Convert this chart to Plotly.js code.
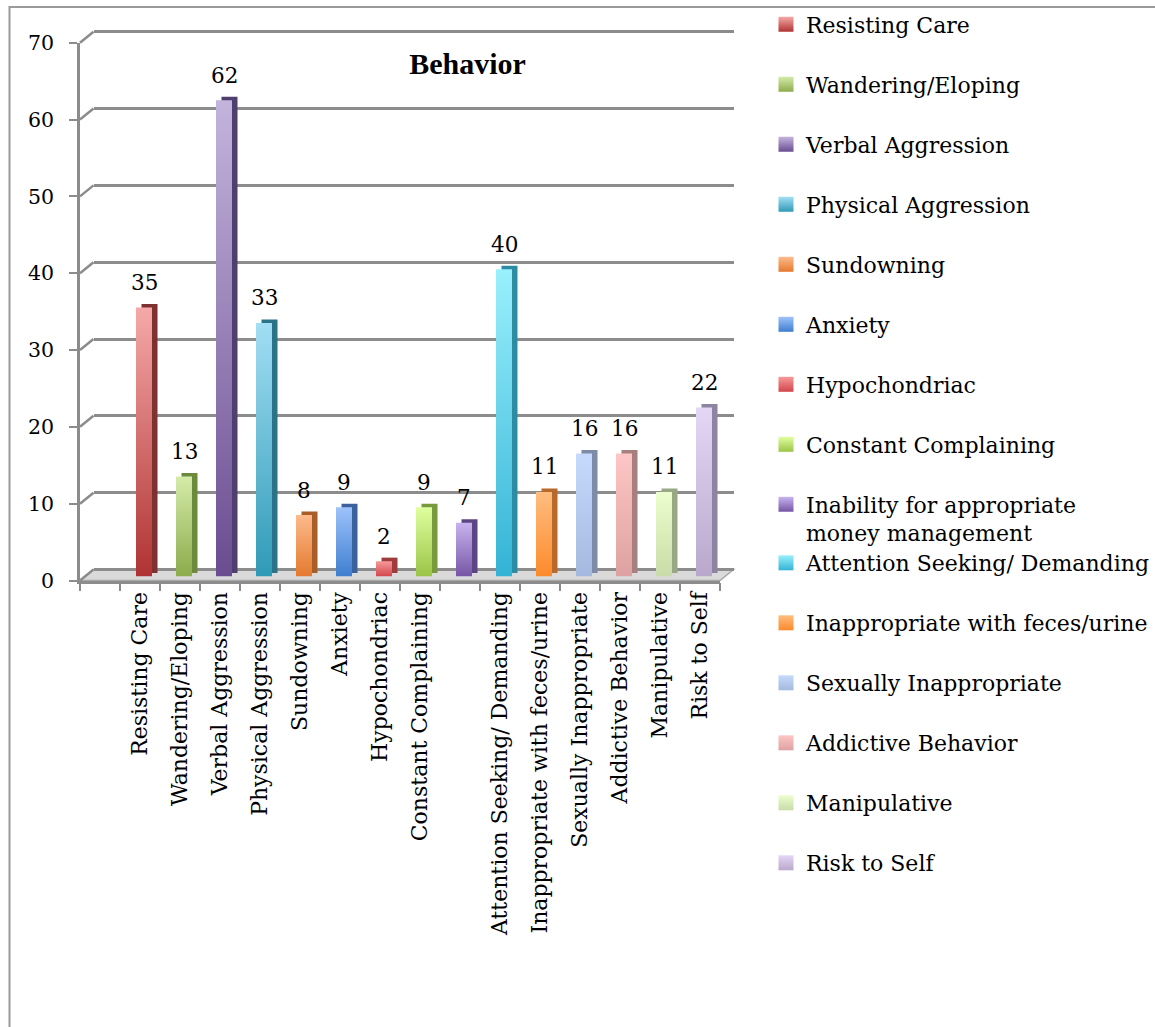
<!DOCTYPE html>
<html>
<head>
<meta charset="utf-8">
<script src="https://cdn.plot.ly/plotly-3.0.1.min.js"></script>
<style>
  html, body { margin: 0; padding: 0; background: #ffffff; }
  #chart { width: 1155px; height: 1027px; }
</style>
</head>
<body>
<div id="chart"></div>
<script>
// ---- data ----
const categories = [
  'Resisting Care', 'Wandering/Eloping', 'Verbal Aggression', 'Physical Aggression',
  'Sundowning', 'Anxiety', 'Hypochondriac', 'Constant Complaining',
  'Inability for appropriate<br>money management', 'Attention Seeking/ Demanding',
  'Inappropriate with feces/urine', 'Sexually Inappropriate', 'Addictive Behavior',
  'Manipulative', 'Risk to Self'
];
const values = [35, 13, 62, 33, 8, 9, 2, 9, 7, 40, 11, 16, 16, 11, 22];
// category-axis labels (the long "Inability..." label is left off the axis)
const axisLabels = [
  'Resisting Care', 'Wandering/Eloping', 'Verbal Aggression', 'Physical Aggression',
  'Sundowning', 'Anxiety', 'Hypochondriac', 'Constant Complaining',
  '', 'Attention Seeking/ Demanding',
  'Inappropriate with feces/urine', 'Sexually Inappropriate', 'Addictive Behavior',
  'Manipulative', 'Risk to Self'
];
const yTicks = [0, 10, 20, 30, 40, 50, 60, 70];

// ---- styling ----
// front-face colours: base (mid), gradient top and gradient bottom
const faceColors = [
  '#d46b6a', '#b2cf7e', '#9381b6', '#62bad3', '#f59e63', '#6c9fe6', '#e66c6e', '#c0e27a',
  '#9c82cc', '#67d2ea', '#fea35a', '#b5c9ef', '#eeb3b3', '#ddedbf', '#cfc0e1'
];
const faceTop = [
  '#f5a9a8', '#d4eba9', '#c3b4dc', '#a2def4', '#fdbb8c', '#9ec2fb', '#f79a9a', '#dfff9f',
  '#c8b3ee', '#9af0fd', '#ffbd80', '#c6dafe', '#fec6c6', '#ecfecd', '#e4d6f5'
];
const faceBottom = [
  '#b03333', '#8cab4b', '#6a4c91', '#2f9ab6', '#e4792e', '#3e7ecf', '#d2464b', '#9bc447',
  '#7655a6', '#33b3d5', '#fd8a2b', '#a5b9df', '#dea1a1', '#c9dba8', '#b9a8cc'
];
const sideColors = [
  '#7e3131', '#6b8a3c', '#4f3f6e', '#2b7388', '#a95d28', '#3b629e', '#9e3b3d', '#789a3a',
  '#5b4584', '#2c8ca3', '#b96a2a', '#7d8ba8', '#a87f7f', '#98a885', '#8e83a0'
];
const FONT = 'DejaVu Serif';
const FS = 22;
const GRID = '#8c8c8c';

const W = 1155, H = 1027;
// front plane of the 3-D frame, in pixels
const F = { x0: 80, x1: 720, yBase: 580.5, yTop: 42.7 };
// depth offsets (pixels) for bar faces, bar backs and the back wall
const OFF_FACE = { dx: 4, dy: -4 };
const OFF_BACK = { dx: 9.5, dy: -7.5 };
const OFF_WALL = { dx: 13.5, dy: -11 };
const SLOT_FIRST = 1;           // first category slot (slot 0 is left empty)
const X_RANGE = [-0.5, 15.5];
const Y_RANGE = [0, 70];
const WALL_PAD = 0.5;           // keeps the top gridline inside the wall axis range
const BAR_W = 0.4;
const KEY_HALF = 7.5;           // half size of the legend keys, px

const px = x => x / W;
const py = y => 1 - y / H;
const vToPx = v => F.yBase - (v - Y_RANGE[0]) * (F.yBase - F.yTop) / (Y_RANGE[1] - Y_RANGE[0]);
const xDom = o => [px(F.x0 + o.dx), px(F.x1 + o.dx)];
const yDom = (o, pad) => [py(vToPx(Y_RANGE[0] - (pad || 0)) + o.dy), py(vToPx(Y_RANGE[1] + (pad || 0)) + o.dy)];

const slots = categories.map((_, i) => i + SLOT_FIRST);

const hidden = (dom, anchor) => ({
  domain: dom, anchor: anchor, fixedrange: true,
  showgrid: false, zeroline: false, showline: false, showticklabels: false, ticks: ''
});

// empty trace so an axis pair gets drawn
const holder = (xa, ya) => ({
  type: 'scatter', mode: 'markers', x: [], y: [], xaxis: xa, yaxis: ya,
  showlegend: false, hoverinfo: 'skip'
});

// ---- traces ----
const traces = [holder('x', 'y')];
// bar backs (visible as the side and top faces)
categories.forEach((c, i) => {
  traces.push({
    type: 'bar', x: [slots[i]], y: [values[i]], width: BAR_W,
    xaxis: 'x2', yaxis: 'y2',
    marker: { color: sideColors[i] },
    showlegend: false, legendgroup: c, hoverinfo: 'skip'
  });
});
// bar fronts
categories.forEach((c, i) => {
  traces.push({
    type: 'bar', x: [slots[i]], y: [values[i]], width: BAR_W,
    xaxis: 'x3', yaxis: 'y3', meta: i,
    name: c, legendgroup: c,
    legend: i < 9 ? 'legend' : 'legend2',
    marker: { color: faceColors[i] },
    hovertemplate: c.replace('<br>', ' ') + ': %{y}<extra></extra>'
  });
});
traces.push(holder('x4', 'y4'));

// ---- value labels ----
const annotations = categories.map((c, i) => ({
  xref: 'x3', yref: 'y3', x: slots[i], y: values[i],
  text: String(values[i]), showarrow: false, yshift: 25,
  xanchor: 'center', yanchor: 'middle',
  font: { family: FONT, size: 21.5, color: '#000' }
}));

// ---- frame decoration ----
const shapes = [];
// outer chart border
shapes.push({
  type: 'rect', xref: 'paper', yref: 'paper',
  x0: px(9.5), x1: 1.02, y0: -0.02, y1: py(7),
  line: { color: '#9a9a9a', width: 2 }, fillcolor: 'rgba(0,0,0,0)', layer: 'below'
});
// floor
const fy = vToPx(0);
shapes.push({
  type: 'path', xref: 'paper', yref: 'paper', layer: 'below',
  path: `M${px(F.x0)},${py(fy)} L${px(F.x1)},${py(fy)} L${px(F.x1 + OFF_WALL.dx)},${py(fy + OFF_WALL.dy)} L${px(F.x0 + OFF_WALL.dx)},${py(fy + OFF_WALL.dy)} Z`,
  fillcolor: '#dadada', line: { color: '#a8a8a8', width: 1.5 }
});
// depth connectors from the value axis to the back-wall gridlines
yTicks.forEach(v => {
  const y = vToPx(v);
  shapes.push({
    type: 'line', xref: 'paper', yref: 'paper', layer: 'below',
    x0: px(F.x0), y0: py(y), x1: px(F.x0 + OFF_WALL.dx), y1: py(y + OFF_WALL.dy),
    line: { color: GRID, width: 2.5 }
  });
});

const boundaries = [];
for (let b = X_RANGE[0]; b <= X_RANGE[1]; b += 1) boundaries.push(b);

const legendBase = {
  xanchor: 'left', yanchor: 'top', bgcolor: 'rgba(0,0,0,0)', borderwidth: 0,
  font: { family: FONT, size: FS, color: '#000' },
  tracegroupgap: 28.4, valign: 'top', traceorder: 'grouped'
};

const layout = {
  width: W, height: H,
  margin: { l: 0, r: 0, t: 0, b: 0, pad: 0 },
  paper_bgcolor: '#ffffff', plot_bgcolor: 'rgba(0,0,0,0)',
  barmode: 'overlay',
  font: { family: FONT, size: FS, color: '#000' },
  title: {
    text: 'Behavior', x: px(467.5), xanchor: 'center', y: py(63), yanchor: 'middle',
    font: { family: 'Liberation Serif', size: 30, weight: 700, color: '#000' }
  },
  // back wall with gridlines
  xaxis: Object.assign(hidden(xDom(OFF_WALL), 'y'), { range: X_RANGE }),
  yaxis: Object.assign(hidden(yDom(OFF_WALL, WALL_PAD), 'x'), {
    range: [Y_RANGE[0] - WALL_PAD, Y_RANGE[1] + WALL_PAD],
    showgrid: true, tickmode: 'array', tickvals: yTicks,
    gridcolor: GRID, gridwidth: 3
  }),
  // bar backs
  xaxis2: Object.assign(hidden(xDom(OFF_BACK), 'y2'), { range: X_RANGE }),
  yaxis2: Object.assign(hidden(yDom(OFF_BACK), 'x2'), { range: Y_RANGE }),
  // bar fronts
  xaxis3: Object.assign(hidden(xDom(OFF_FACE), 'y3'), { range: X_RANGE }),
  yaxis3: Object.assign(hidden(yDom(OFF_FACE), 'x3'), { range: Y_RANGE }),
  // front axes
  xaxis4: {
    domain: xDom({ dx: 0 }), anchor: 'y4', range: X_RANGE, fixedrange: true,
    showgrid: false, zeroline: false, showline: true, linecolor: GRID, linewidth: 2.5,
    tickmode: 'array', tickvals: slots, ticktext: axisLabels, ticks: '',
    tickangle: -90, tickfont: { family: FONT, size: FS, color: '#000' },
    minor: { tickmode: 'array', tickvals: boundaries, ticks: 'outside', ticklen: 8, tickwidth: 2, tickcolor: GRID, showgrid: false }
  },
  yaxis4: {
    domain: yDom({ dy: 0 }), anchor: 'x4', range: Y_RANGE, fixedrange: true,
    showgrid: false, zeroline: false, showline: true, linecolor: GRID, linewidth: 2.5,
    tickmode: 'array', tickvals: yTicks, ticks: 'outside', ticklen: 8, tickwidth: 2,
    tickcolor: GRID, ticklabelstandoff: 11,
    tickfont: { family: FONT, size: 20.5, color: '#000' }
  },
  legend: Object.assign({}, legendBase, { x: px(766), y: py(3.5) }),
  legend2: Object.assign({}, legendBase, { x: px(766), y: py(542) }),
  annotations: annotations,
  shapes: shapes,
  showlegend: true
};

// vertical shading of the bar fronts and legend keys
function ensureGradients(svg) {
  let defs = svg.querySelector('defs');
  if (!defs) {
    defs = document.createElementNS('http://www.w3.org/2000/svg', 'defs');
    svg.insertBefore(defs, svg.firstChild);
  }
  categories.forEach((c, i) => {
    const id = 'face-grad-' + i;
    if (document.getElementById(id)) return;
    const g = document.createElementNS('http://www.w3.org/2000/svg', 'linearGradient');
    g.setAttribute('id', id);
    g.setAttribute('x1', '0'); g.setAttribute('y1', '0');
    g.setAttribute('x2', '0'); g.setAttribute('y2', '1');
    [[0, faceTop[i]], [1, faceBottom[i]]].forEach(([o, col]) => {
      const s = document.createElementNS('http://www.w3.org/2000/svg', 'stop');
      s.setAttribute('offset', String(o));
      s.setAttribute('stop-color', col);
      g.appendChild(s);
    });
    defs.appendChild(g);
  });
}

function shadeFaces(gd) {
  const svg = gd.querySelector('svg.main-svg');
  if (!svg) return;
  ensureGradients(svg);
  gd.querySelectorAll('g.trace.bars').forEach(g => {
    const cd = g.__data__;
    const t = cd && cd[0] && cd[0].trace;
    if (!t || typeof t.meta !== 'number') return;
    g.querySelectorAll('path').forEach(p => { p.style.fill = `url(#face-grad-${t.meta})`; });
  });
  const k = KEY_HALF;
  gd.querySelectorAll('g.traces').forEach(g => {
    const d = g.__data__;
    const t = d && d[0] && d[0].trace;
    if (!t || typeof t.meta !== 'number') return;
    g.querySelectorAll('g.legendpoints path').forEach(p => {
      p.style.fill = `url(#face-grad-${t.meta})`;
      p.setAttribute('d', `M${k},${k}H${-k}V${-k}H${k}Z`);
    });
  });
}

const gd = document.getElementById('chart');
Plotly.newPlot(gd, traces, layout, { displayModeBar: false, responsive: false }).then(() => {
  shadeFaces(gd);
  gd.on('plotly_afterplot', () => shadeFaces(gd));
});
</script>
</body>
</html>
